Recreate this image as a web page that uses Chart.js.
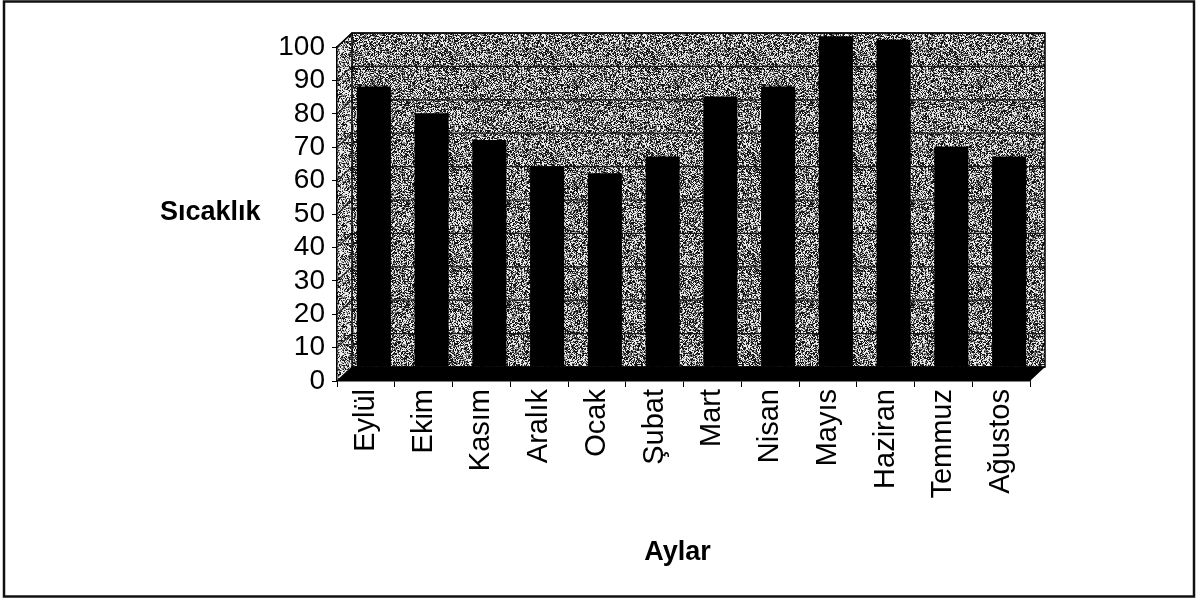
<!DOCTYPE html>
<html>
<head>
<meta charset="utf-8">
<script src="https://cdn.jsdelivr.net/npm/chart.js@4/dist/chart.umd.min.js"></script>
<style>
  html, body { margin: 0; padding: 0; background: #fff; }
  #kutu { width: 1198px; height: 599px; }
</style>
</head>
<body>
<div id="kutu"><canvas id="sicaklikGrafik" width="1198" height="599"></canvas></div>
<script>
// aylara göre sıcaklık
const aylar = ['Eylül', 'Ekim', 'Kasım', 'Aralık', 'Ocak', 'Şubat', 'Mart', 'Nisan', 'Mayıs', 'Haziran', 'Temmuz', 'Ağustos'];
const sicakliklar = [84, 76, 68, 60, 58, 63, 81, 84, 99, 98, 66, 63];
const yTikler = [0, 10, 20, 30, 40, 50, 60, 70, 80, 90, 100];

const FONT = "'Liberation Sans', Arial, sans-serif";
// 3B görünüm için arka duvarın kayması
const DX = 15, DY = 14;

// duvarlar için noktalı gri doku
function desen(acik, tohum) {
  const n = 101;
  const c = document.createElement('canvas');
  c.width = c.height = n;
  const g = c.getContext('2d');
  const img = g.createImageData(n, n);
  let s = tohum;
  for (let i = 0; i < n * n; i++) {
    s = (s + 0x6D2B79F5) | 0;
    let t = Math.imul(s ^ (s >>> 15), 1 | s);
    t = (t + Math.imul(t ^ (t >>> 7), 61 | t)) ^ t;
    const r = ((t ^ (t >>> 14)) >>> 0) / 4294967296;
    const v = r < acik ? 235 : (r < acik + 0.25 ? 120 : 20);
    img.data[i * 4] = img.data[i * 4 + 1] = img.data[i * 4 + 2] = v;
    img.data[i * 4 + 3] = 255;
  }
  g.putImageData(img, 0, 0);
  return c;
}
const arkaDesen = desen(0.36, 7);
const yanDesen = desen(0.5, 91);

const duvarlar = {
  id: 'duvarlar',
  beforeDraw(chart) {
    const ctx = chart.ctx;
    const { left, right, top, bottom } = chart.chartArea;
    const y = chart.scales.y;
    ctx.save();
    // arka duvar
    ctx.fillStyle = ctx.createPattern(arkaDesen, 'repeat');
    ctx.fillRect(left + DX, top - DY, right - left, bottom - top);
    // sol duvar
    ctx.fillStyle = ctx.createPattern(yanDesen, 'repeat');
    ctx.beginPath();
    ctx.moveTo(left, bottom);
    ctx.lineTo(left, top);
    ctx.lineTo(left + DX, top - DY);
    ctx.lineTo(left + DX, bottom - DY);
    ctx.closePath();
    ctx.fill();
    // kılavuz çizgileri
    ctx.strokeStyle = '#1a1a1a';
    ctx.lineWidth = 1.2;
    yTikler.forEach(v => {
      const py = y.getPixelForValue(v);
      ctx.beginPath();
      ctx.moveTo(left, py);
      ctx.lineTo(left + DX, py - DY);
      ctx.lineTo(right + DX, py - DY);
      ctx.stroke();
    });
    // taban
    ctx.fillStyle = '#000';
    ctx.beginPath();
    ctx.moveTo(left, bottom);
    ctx.lineTo(right, bottom);
    ctx.lineTo(right + DX, bottom - DY);
    ctx.lineTo(left + DX, bottom - DY);
    ctx.closePath();
    ctx.fill();
    // kenarlar
    ctx.strokeStyle = '#000';
    ctx.lineWidth = 1.5;
    ctx.strokeRect(left + DX, top - DY, right - left, bottom - top);
    ctx.beginPath();
    ctx.moveTo(left, top);
    ctx.lineTo(left + DX, top - DY);
    ctx.stroke();
    ctx.restore();
  },
  beforeDatasetsDraw(chart) {
    chart.ctx.save();
    chart.ctx.translate(8, -DY);
  },
  afterDatasetsDraw(chart) {
    chart.ctx.restore();
  },
  afterDraw(chart) {
    const ctx = chart.ctx;
    const { left, right } = chart.chartArea;
    ctx.save();
    ctx.fillStyle = '#000';
    ctx.font = 'bold 27px ' + FONT;
    ctx.textBaseline = 'middle';
    ctx.textAlign = 'left';
    ctx.fillText('Sıcaklık', 160, 213);
    ctx.textAlign = 'center';
    ctx.textBaseline = 'alphabetic';
    ctx.fillText('Aylar', (left + right) / 2 - 6, 560);
    // çerçeve
    ctx.strokeStyle = '#111';
    ctx.lineWidth = 2.5;
    ctx.strokeRect(4, 1.5, 1190, 595);
    ctx.restore();
  }
};

new Chart(document.getElementById('sicaklikGrafik').getContext('2d'), {
  type: 'bar',
  data: {
    labels: aylar,
    datasets: [{
      data: sicakliklar,
      backgroundColor: '#000',
      borderWidth: 0,
      barPercentage: 0.59,
      categoryPercentage: 1,
      clip: false
    }]
  },
  options: {
    responsive: false,
    animation: false,
    devicePixelRatio: 1,
    layout: { padding: { left: 10, top: 47, right: 168, bottom: 0 } },
    plugins: {
      legend: { display: false },
      tooltip: { enabled: false }
    },
    scales: {
      x: {
        ticks: {
          autoSkip: false,
          minRotation: 90,
          maxRotation: 90,
          padding: 2,
          color: '#000',
          font: { family: FONT, size: 29 }
        },
        grid: { drawOnChartArea: false, drawTicks: true, tickLength: 6, color: '#000', offset: true },
        border: { display: true, color: '#000', width: 1.5 },
        afterFit(s) { s.height = 599 - 381; }
      },
      y: {
        min: yTikler[0],
        max: yTikler[yTikler.length - 1],
        afterBuildTicks(s) { s.ticks = yTikler.map(v => ({ value: v })); },
        ticks: {
          autoSkip: false,
          stepSize: yTikler[1] - yTikler[0],
          padding: 7,
          color: '#000',
          font: { family: FONT, size: 28 }
        },
        grid: { drawOnChartArea: false, drawTicks: true, tickLength: 5, color: '#000' },
        border: { display: true, color: '#000', width: 1.5 },
        afterFit(s) { s.width = 327; }
      }
    }
  },
  plugins: [duvarlar]
});
</script>
</body>
</html>
